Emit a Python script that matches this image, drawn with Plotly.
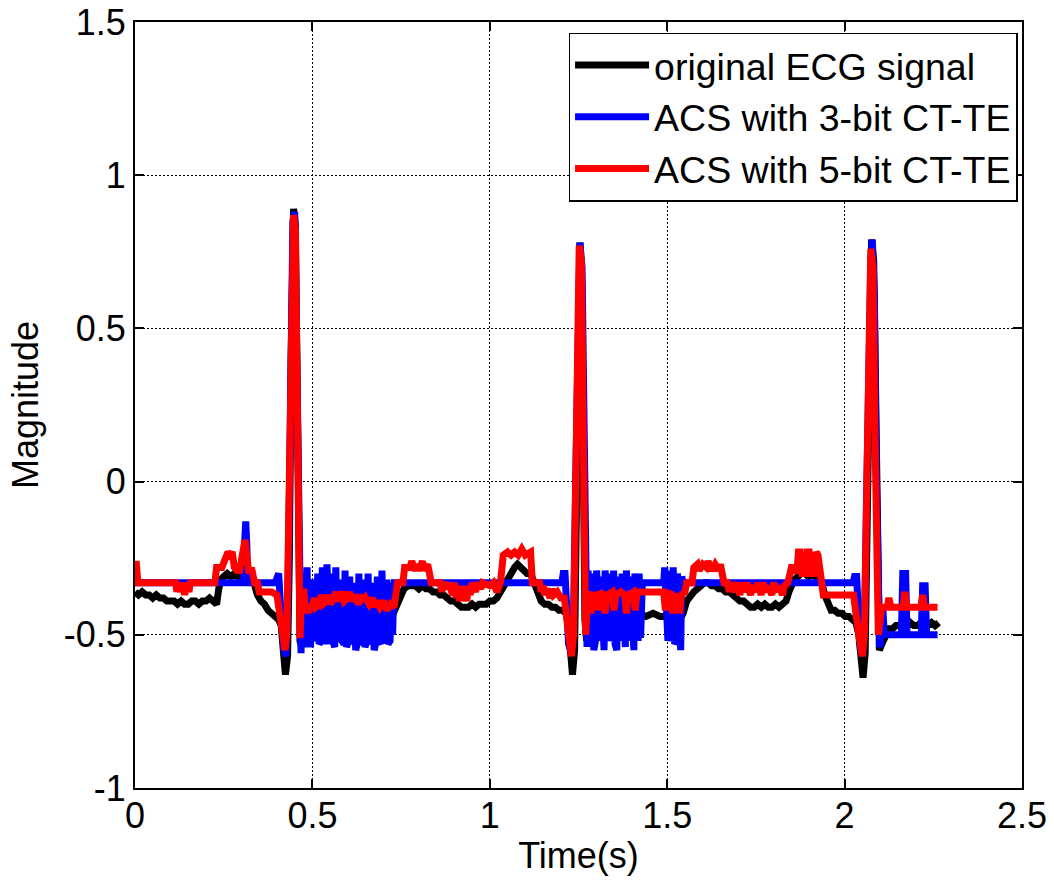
import plotly.graph_objects as go

# ---------------- data ----------------
black_pts = [
    (0.000, -0.36), (0.010, -0.37), (0.020, -0.36), (0.030, -0.37), (0.040, -0.37), (0.050, -0.38),
    (0.060, -0.37), (0.070, -0.38), (0.080, -0.38), (0.090, -0.39), (0.100, -0.39), (0.110, -0.39),
    (0.120, -0.40), (0.130, -0.39), (0.140, -0.40), (0.150, -0.40), (0.160, -0.39), (0.170, -0.39),
    (0.180, -0.40), (0.190, -0.39), (0.200, -0.39), (0.210, -0.38), (0.220, -0.39), (0.230, -0.40),
    (0.236, -0.35), (0.242, -0.32), (0.250, -0.31), (0.260, -0.30), (0.270, -0.31), (0.280, -0.30),
    (0.290, -0.31), (0.300, -0.31), (0.310, -0.30), (0.320, -0.30), (0.330, -0.31), (0.337, -0.34),
    (0.345, -0.37), (0.355, -0.39), (0.365, -0.40), (0.375, -0.42), (0.385, -0.43), (0.395, -0.44),
    (0.405, -0.45), (0.412, -0.47), (0.418, -0.55), (0.424, -0.63), (0.430, -0.57), (0.435, -0.25),
    (0.440, 0.40), (0.444, 0.82), (0.447, 0.89), (0.452, 0.84), (0.456, 0.40), (0.460, -0.15),
    (0.465, -0.52), (0.470, -0.54), (0.478, -0.48), (0.490, -0.46), (0.500, -0.45), (0.520, -0.44),
    (0.540, -0.45), (0.560, -0.44), (0.580, -0.45), (0.600, -0.44), (0.620, -0.45), (0.640, -0.44),
    (0.660, -0.45), (0.680, -0.44), (0.700, -0.44), (0.715, -0.44), (0.728, -0.43), (0.738, -0.40),
    (0.748, -0.37), (0.758, -0.35), (0.770, -0.34), (0.780, -0.34), (0.790, -0.34), (0.800, -0.35),
    (0.810, -0.34), (0.820, -0.35), (0.830, -0.35), (0.840, -0.36), (0.850, -0.36), (0.860, -0.37),
    (0.870, -0.37), (0.880, -0.38), (0.890, -0.39), (0.900, -0.39), (0.910, -0.40), (0.920, -0.41),
    (0.930, -0.41), (0.940, -0.41), (0.950, -0.40), (0.960, -0.41), (0.970, -0.40), (0.980, -0.40),
    (0.990, -0.40), (1.000, -0.39), (1.010, -0.39), (1.020, -0.38), (1.030, -0.36), (1.040, -0.33),
    (1.050, -0.31), (1.060, -0.29), (1.070, -0.28), (1.078, -0.27), (1.086, -0.28), (1.095, -0.29),
    (1.105, -0.30), (1.115, -0.30), (1.125, -0.33), (1.135, -0.37), (1.145, -0.39), (1.155, -0.40),
    (1.165, -0.40), (1.175, -0.41), (1.185, -0.41), (1.195, -0.42), (1.205, -0.42), (1.215, -0.43),
    (1.222, -0.47), (1.228, -0.56), (1.233, -0.63), (1.239, -0.55), (1.244, -0.10), (1.249, 0.50),
    (1.254, 0.78), (1.259, 0.65), (1.263, 0.10), (1.268, -0.45), (1.273, -0.52), (1.280, -0.47),
    (1.290, -0.45), (1.300, -0.44), (1.320, -0.43), (1.340, -0.42), (1.360, -0.43), (1.380, -0.42),
    (1.400, -0.43), (1.420, -0.43), (1.440, -0.44), (1.460, -0.43), (1.480, -0.44), (1.500, -0.44),
    (1.520, -0.44), (1.535, -0.45), (1.545, -0.43), (1.555, -0.39), (1.565, -0.37), (1.575, -0.36),
    (1.585, -0.35), (1.595, -0.34), (1.605, -0.33), (1.615, -0.33), (1.625, -0.34), (1.635, -0.34),
    (1.645, -0.35), (1.655, -0.35), (1.665, -0.36), (1.675, -0.36), (1.685, -0.37), (1.695, -0.38),
    (1.705, -0.39), (1.715, -0.39), (1.725, -0.40), (1.735, -0.41), (1.745, -0.41), (1.755, -0.40),
    (1.765, -0.41), (1.775, -0.40), (1.785, -0.41), (1.795, -0.41), (1.805, -0.40), (1.815, -0.41),
    (1.825, -0.40), (1.835, -0.39), (1.843, -0.36), (1.850, -0.34), (1.858, -0.32), (1.868, -0.31),
    (1.878, -0.30), (1.888, -0.30), (1.898, -0.31), (1.908, -0.30), (1.918, -0.31), (1.928, -0.31),
    (1.936, -0.33), (1.944, -0.37), (1.952, -0.40), (1.962, -0.42), (1.972, -0.42), (1.982, -0.43),
    (1.992, -0.43), (2.002, -0.44), (2.012, -0.44), (2.022, -0.45), (2.032, -0.46), (2.040, -0.50),
    (2.046, -0.58), (2.052, -0.64), (2.058, -0.56), (2.064, -0.10), (2.070, 0.50), (2.076, 0.79),
    (2.082, 0.72), (2.087, 0.20), (2.092, -0.35), (2.098, -0.55), (2.105, -0.53), (2.115, -0.50),
    (2.125, -0.48), (2.135, -0.48), (2.145, -0.47), (2.155, -0.47), (2.165, -0.46), (2.175, -0.47),
    (2.185, -0.46), (2.195, -0.47), (2.205, -0.47), (2.215, -0.46), (2.225, -0.47), (2.235, -0.47),
    (2.245, -0.46), (2.255, -0.47), (2.265, -0.46),
]

blue_pts = [
    (0.000, -0.33), (0.300, -0.33), (0.306, -0.33), (0.309, -0.20), (0.312, -0.13), (0.315, -0.20),
    (0.318, -0.33), (0.395, -0.33), (0.400, -0.30), (0.405, -0.30), (0.410, -0.40), (0.415, -0.52),
    (0.420, -0.55), (0.425, -0.57), (0.430, -0.45), (0.435, -0.05), (0.440, 0.50), (0.445, 0.85),
    (0.450, 0.88), (0.455, 0.50), (0.460, -0.10), (0.464, -0.50), (0.468, -0.56), (0.472, -0.30),
    (0.476, -0.52), (0.482, -0.52), (0.485, -0.28), (0.489, -0.53), (0.495, -0.53), (0.498, -0.33),
    (0.503, -0.33), (0.506, -0.52), (0.512, -0.50), (0.515, -0.30), (0.519, -0.53), (0.525, -0.52),
    (0.528, -0.28), (0.532, -0.52), (0.538, -0.52), (0.541, -0.27), (0.545, -0.50), (0.550, -0.53),
    (0.553, -0.30), (0.557, -0.52), (0.563, -0.54), (0.566, -0.28), (0.570, -0.50), (0.576, -0.52),
    (0.579, -0.32), (0.583, -0.52), (0.589, -0.53), (0.592, -0.29), (0.596, -0.54), (0.602, -0.52),
    (0.605, -0.31), (0.609, -0.50), (0.615, -0.53), (0.618, -0.33), (0.622, -0.55), (0.628, -0.52),
    (0.631, -0.30), (0.635, -0.52), (0.641, -0.53), (0.644, -0.32), (0.648, -0.54), (0.654, -0.52),
    (0.657, -0.30), (0.661, -0.51), (0.667, -0.53), (0.670, -0.33), (0.674, -0.55), (0.680, -0.52),
    (0.683, -0.31), (0.687, -0.52), (0.693, -0.53), (0.696, -0.29), (0.700, -0.51), (0.706, -0.52),
    (0.709, -0.32), (0.713, -0.53), (0.719, -0.52), (0.722, -0.33), (0.726, -0.50), (0.730, -0.33),
    (1.203, -0.33), (1.207, -0.30), (1.212, -0.30), (1.216, -0.45), (1.222, -0.53), (1.229, -0.56),
    (1.236, -0.45), (1.242, 0.00), (1.248, 0.50), (1.254, 0.78), (1.260, 0.70), (1.265, 0.10),
    (1.270, -0.50), (1.274, -0.54), (1.277, -0.29), (1.281, -0.52), (1.286, -0.50), (1.289, -0.30),
    (1.293, -0.55), (1.298, -0.52), (1.301, -0.29), (1.305, -0.50), (1.310, -0.52), (1.313, -0.31),
    (1.317, -0.53), (1.322, -0.55), (1.325, -0.29), (1.329, -0.51), (1.334, -0.52), (1.337, -0.30),
    (1.341, -0.52), (1.346, -0.50), (1.349, -0.29), (1.353, -0.53), (1.358, -0.55), (1.361, -0.31),
    (1.365, -0.50), (1.370, -0.52), (1.373, -0.30), (1.377, -0.52), (1.382, -0.54), (1.385, -0.29),
    (1.389, -0.51), (1.394, -0.52), (1.397, -0.31), (1.401, -0.53), (1.406, -0.55), (1.409, -0.30),
    (1.413, -0.50), (1.418, -0.52), (1.421, -0.30), (1.425, -0.51), (1.430, -0.33), (1.490, -0.33),
    (1.493, -0.28), (1.497, -0.50), (1.502, -0.52), (1.505, -0.29), (1.509, -0.52), (1.514, -0.50),
    (1.517, -0.28), (1.521, -0.53), (1.526, -0.52), (1.529, -0.30), (1.533, -0.54), (1.538, -0.55),
    (1.541, -0.31), (1.545, -0.33), (2.024, -0.33), (2.028, -0.31), (2.034, -0.31), (2.038, -0.45),
    (2.043, -0.53), (2.050, -0.57), (2.056, -0.48), (2.062, -0.05), (2.068, 0.50), (2.074, 0.72),
    (2.078, 0.79), (2.084, 0.60), (2.089, 0.05), (2.094, -0.45), (2.099, -0.54), (2.104, -0.50),
    (2.108, -0.42), (2.112, -0.50), (2.160, -0.50), (2.164, -0.30), (2.172, -0.30), (2.176, -0.50),
    (2.216, -0.50), (2.220, -0.34), (2.227, -0.34), (2.231, -0.50), (2.262, -0.50),
]

red_pts = [
    (0.000, -0.27), (0.004, -0.27), (0.008, -0.33), (0.115, -0.33), (0.118, -0.36), (0.122, -0.33),
    (0.128, -0.36), (0.134, -0.33), (0.140, -0.37), (0.146, -0.33), (0.152, -0.36), (0.156, -0.33),
    (0.225, -0.33), (0.230, -0.28), (0.245, -0.28), (0.250, -0.26), (0.256, -0.24), (0.262, -0.23),
    (0.268, -0.24), (0.274, -0.23), (0.280, -0.28), (0.287, -0.29), (0.295, -0.29), (0.300, -0.25),
    (0.306, -0.20), (0.310, -0.19), (0.315, -0.24), (0.320, -0.29), (0.330, -0.29), (0.337, -0.33),
    (0.345, -0.33), (0.350, -0.36), (0.375, -0.36), (0.385, -0.36), (0.400, -0.37), (0.410, -0.45),
    (0.418, -0.52), (0.423, -0.55), (0.428, -0.50), (0.432, -0.20), (0.436, 0.00), (0.440, 0.45),
    (0.444, 0.80), (0.447, 0.87), (0.452, 0.82), (0.455, 0.40), (0.458, -0.05), (0.462, -0.48),
    (0.465, -0.51), (0.470, -0.36), (0.476, -0.36), (0.480, -0.42), (0.490, -0.42), (0.495, -0.40),
    (0.500, -0.41), (0.505, -0.38), (0.510, -0.41), (0.520, -0.40), (0.525, -0.37), (0.530, -0.40),
    (0.540, -0.39), (0.545, -0.37), (0.550, -0.40), (0.560, -0.38), (0.565, -0.36), (0.570, -0.39),
    (0.580, -0.37), (0.585, -0.36), (0.590, -0.39), (0.600, -0.38), (0.605, -0.36), (0.610, -0.39),
    (0.620, -0.37), (0.630, -0.40), (0.640, -0.37), (0.645, -0.39), (0.650, -0.38), (0.660, -0.40),
    (0.670, -0.38), (0.675, -0.41), (0.680, -0.39), (0.690, -0.41), (0.700, -0.39), (0.710, -0.42),
    (0.720, -0.40), (0.730, -0.41), (0.735, -0.37), (0.740, -0.33), (0.755, -0.33), (0.760, -0.28),
    (0.775, -0.28), (0.780, -0.26), (0.790, -0.29), (0.795, -0.27), (0.800, -0.29), (0.810, -0.26),
    (0.815, -0.29), (0.825, -0.27), (0.830, -0.30), (0.835, -0.33), (0.860, -0.33), (0.865, -0.36),
    (0.870, -0.33), (0.880, -0.35), (0.885, -0.33), (0.895, -0.37), (0.900, -0.33), (0.905, -0.38),
    (0.910, -0.35), (0.915, -0.39), (0.920, -0.34), (0.925, -0.38), (0.930, -0.36), (0.935, -0.39),
    (0.940, -0.34), (0.945, -0.37), (0.950, -0.33), (0.960, -0.36), (0.965, -0.33), (0.975, -0.35),
    (0.980, -0.33), (1.000, -0.34), (1.010, -0.33), (1.020, -0.36), (1.030, -0.33), (1.038, -0.24),
    (1.050, -0.23), (1.060, -0.24), (1.070, -0.23), (1.080, -0.24), (1.090, -0.22), (1.100, -0.24),
    (1.115, -0.23), (1.120, -0.33), (1.140, -0.33), (1.145, -0.36), (1.150, -0.34), (1.155, -0.37),
    (1.160, -0.35), (1.170, -0.38), (1.175, -0.35), (1.180, -0.37), (1.190, -0.36), (1.200, -0.38),
    (1.210, -0.38), (1.215, -0.42), (1.222, -0.50), (1.230, -0.57), (1.236, -0.50), (1.240, -0.20),
    (1.245, 0.10), (1.248, 0.55), (1.252, 0.77), (1.258, 0.72), (1.262, 0.30), (1.266, -0.10),
    (1.270, -0.50), (1.276, -0.37), (1.280, -0.36), (1.285, -0.43), (1.290, -0.37), (1.300, -0.37),
    (1.305, -0.42), (1.310, -0.36), (1.320, -0.37), (1.325, -0.43), (1.330, -0.37), (1.345, -0.36),
    (1.350, -0.42), (1.355, -0.37), (1.370, -0.36), (1.380, -0.37), (1.385, -0.43), (1.390, -0.37),
    (1.405, -0.36), (1.410, -0.42), (1.415, -0.36), (1.430, -0.36), (1.490, -0.36), (1.495, -0.42),
    (1.500, -0.37), (1.510, -0.36), (1.515, -0.43), (1.520, -0.37), (1.530, -0.38), (1.535, -0.43),
    (1.540, -0.37), (1.550, -0.36), (1.555, -0.33), (1.570, -0.33), (1.575, -0.28), (1.585, -0.27),
    (1.590, -0.29), (1.600, -0.27), (1.610, -0.28), (1.615, -0.26), (1.625, -0.29), (1.635, -0.27),
    (1.645, -0.29), (1.650, -0.27), (1.655, -0.29), (1.660, -0.33), (1.670, -0.33), (1.675, -0.36),
    (1.680, -0.33), (1.690, -0.36), (1.695, -0.33), (1.705, -0.37), (1.710, -0.33), (1.720, -0.36),
    (1.725, -0.33), (1.735, -0.37), (1.740, -0.34), (1.750, -0.36), (1.755, -0.33), (1.765, -0.37),
    (1.770, -0.33), (1.780, -0.36), (1.785, -0.34), (1.795, -0.37), (1.800, -0.33), (1.810, -0.36),
    (1.815, -0.34), (1.825, -0.37), (1.830, -0.34), (1.840, -0.33), (1.850, -0.28), (1.860, -0.28),
    (1.865, -0.30), (1.870, -0.23), (1.875, -0.23), (1.880, -0.30), (1.890, -0.30), (1.895, -0.23),
    (1.900, -0.23), (1.905, -0.30), (1.915, -0.30), (1.920, -0.23), (1.925, -0.24), (1.930, -0.30),
    (1.940, -0.37), (2.025, -0.37), (2.030, -0.42), (2.040, -0.50), (2.050, -0.57), (2.056, -0.50),
    (2.060, -0.20), (2.065, 0.05), (2.070, 0.50), (2.074, 0.76), (2.080, 0.70), (2.085, 0.20),
    (2.090, -0.20), (2.095, -0.50), (2.100, -0.45), (2.105, -0.41), (2.120, -0.41), (2.125, -0.38),
    (2.130, -0.41), (2.165, -0.41), (2.170, -0.36), (2.175, -0.41), (2.215, -0.41), (2.220, -0.37),
    (2.225, -0.41), (2.262, -0.41),
]

series_names = ["original ECG signal", "ACS with 3-bit CT-TE", "ACS with 5-bit CT-TE"]
series_colors = ["#000000", "#0000FF", "#FF0000"]

x_ticks = [0, 0.5, 1, 1.5, 2, 2.5]
x_tick_text = ["0", "0.5", "1", "1.5", "2", "2.5"]
y_ticks = [-1, -0.5, 0, 0.5, 1, 1.5]
y_tick_text = ["-1", "-0.5", "0", "0.5", "1", "1.5"]

# ---------------- figure ----------------
FONT = "Liberation Sans, Arial, sans-serif"
fig = go.Figure()
for pts, name, color in zip([black_pts, blue_pts, red_pts], series_names, series_colors):
    fig.add_trace(go.Scatter(
        x=[p[0] for p in pts], y=[p[1] for p in pts], mode="lines", name=name,
        line=dict(color=color, width=7, shape="linear"),
    ))

axis_common = dict(
    showline=True, linecolor="black", linewidth=2, mirror="ticks",
    ticks="inside", ticklen=9, tickwidth=1.5, tickcolor="black",
    showgrid=True, gridcolor="black", gridwidth=1, griddash="2px,2px",
    zeroline=False, automargin=False,
    tickfont=dict(family=FONT, size=36, color="black"),
)

fig.update_xaxes(range=[0, 2.5], tickvals=x_ticks, ticktext=x_tick_text, ticklabelstandoff=-5,
                 title=dict(text="Time(s)", font=dict(family=FONT, size=36, color="black"), standoff=8),
                 **axis_common)
fig.update_yaxes(range=[-1, 1.5], tickvals=y_ticks, ticktext=y_tick_text,
                 title=dict(text="Magnitude", font=dict(family=FONT, size=36, color="black"), standoff=14),
                 **axis_common)

fig.update_layout(
    width=1054, height=886,
    margin=dict(l=135, r=32, t=22, b=98),
    paper_bgcolor="white", plot_bgcolor="white",
    font=dict(family=FONT, size=36, color="black"),
    showlegend=True,
    legend=dict(
        x=0.995, y=0.986, xanchor="right", yanchor="top",
        bgcolor="white", bordercolor="black", borderwidth=1.5,
        font=dict(family=FONT, size=37.5, color="black"),
        itemwidth=74, tracegroupgap=0,
    ),
)

fig.write_html("out.html")
